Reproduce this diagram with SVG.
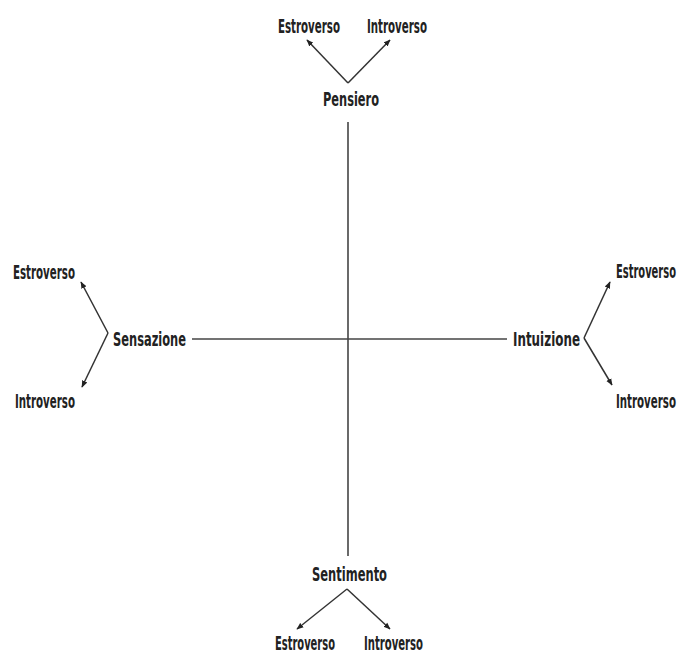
<svg xmlns="http://www.w3.org/2000/svg" width="678" height="655" viewBox="0 0 678 655">
<style>
text{font-family:"DejaVu Sans","Liberation Sans",sans-serif;font-weight:bold;font-size:19px;fill:#222}
.axis{stroke:#444;stroke-width:1.6;fill:none}
.arr{stroke:#333;stroke-width:1.5;fill:none;marker-end:url(#ah)}
</style>
<defs>
<marker id="ah" viewBox="0 0 10 10" refX="9" refY="5" markerWidth="7" markerHeight="7" markerUnits="userSpaceOnUse" orient="auto">
<path d="M0,1 L10,5 L0,9 z" fill="#222"/>
</marker>
</defs>
<rect width="678" height="655" fill="#fff"/>
<g id="connectors">
<line class="axis" x1="348" y1="122" x2="348" y2="556"/>
<line class="axis" x1="192" y1="339" x2="507" y2="339"/>
<polyline class="arr" points="348,83 307,40"/>
<polyline class="arr" points="348,83 390,40"/>
<polyline class="arr" points="108,333 81,282"/>
<polyline class="arr" points="108,333 82,387"/>
<polyline class="arr" points="584,338 610,282"/>
<polyline class="arr" points="584,338 612,385"/>
<polyline class="arr" points="347,589 297,629"/>
<polyline class="arr" points="347,589 390,629"/>
</g>
<g id="pensiero"><text transform="translate(323,106) scale(0.55,1)" textLength="101.8" lengthAdjust="spacingAndGlyphs">Pensiero</text></g>
<g id="pensiero-estroverso"><text transform="translate(278,33) scale(0.55,1)" textLength="112.7" lengthAdjust="spacingAndGlyphs">Estroverso</text></g>
<g id="pensiero-introverso"><text transform="translate(367,33) scale(0.55,1)" textLength="109" lengthAdjust="spacingAndGlyphs">Introverso</text></g>
<g id="sensazione"><text transform="translate(113,346) scale(0.55,1)" textLength="132.7" lengthAdjust="spacingAndGlyphs">Sensazione</text></g>
<g id="sensazione-estroverso"><text transform="translate(13,279) scale(0.55,1)" textLength="112.7" lengthAdjust="spacingAndGlyphs">Estroverso</text></g>
<g id="sensazione-introverso"><text transform="translate(15,408) scale(0.55,1)" textLength="109" lengthAdjust="spacingAndGlyphs">Introverso</text></g>
<g id="intuizione"><text transform="translate(513,346) scale(0.55,1)" textLength="121.8" lengthAdjust="spacingAndGlyphs">Intuizione</text></g>
<g id="intuizione-estroverso"><text transform="translate(616,278) scale(0.55,1)" textLength="109" lengthAdjust="spacingAndGlyphs">Estroverso</text></g>
<g id="intuizione-introverso"><text transform="translate(616,408) scale(0.55,1)" textLength="109" lengthAdjust="spacingAndGlyphs">Introverso</text></g>
<g id="sentimento"><text transform="translate(312,581) scale(0.55,1)" textLength="136.4" lengthAdjust="spacingAndGlyphs">Sentimento</text></g>
<g id="sentimento-estroverso"><text transform="translate(275,650) scale(0.55,1)" textLength="109" lengthAdjust="spacingAndGlyphs">Estroverso</text></g>
<g id="sentimento-introverso"><text transform="translate(364,650) scale(0.55,1)" textLength="107.3" lengthAdjust="spacingAndGlyphs">Introverso</text></g>
</svg>
